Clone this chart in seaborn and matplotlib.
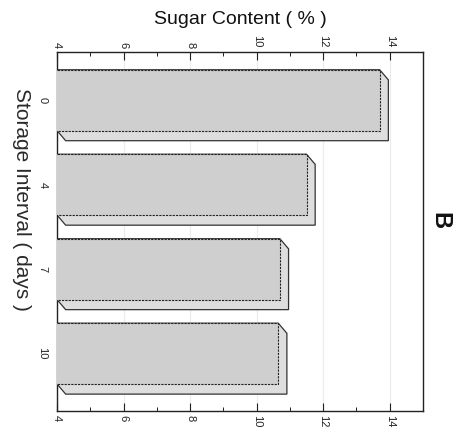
import matplotlib
matplotlib.use("Agg")
import matplotlib.pyplot as plt
from matplotlib.patches import Polygon
from matplotlib.ticker import MultipleLocator
import seaborn as sns
import pandas as pd

# Sugar content of stored samples
storage_days = ["0", "4", "7", "10"]
sugar_pct = [13.7, 11.5, 10.7, 10.65]
sugar_ticks = [4, 6, 8, 10, 12, 14]

sns.set_theme(style="white")
plt.rcParams["font.family"] = ["Liberation Sans", "DejaVu Sans"]

df = pd.DataFrame({"days": storage_days, "sugar": sugar_pct})

fig = plt.figure(figsize=(4.65, 4.43), dpi=100)
ax = fig.add_axes([0.1226, 0.0722, 0.787, 0.8104])

sns.barplot(data=df, x="sugar", y="days", order=storage_days, orient="h",
            color="#cfcfcf", saturation=1, width=0.72, ax=ax,
            edgecolor="#222222", linewidth=0.8, linestyle=(0, (2, 1)))

ax.set_xlim(4, 15)
ax.set_ylim(3.68, -0.57)

# extruded depth behind each bar
dx, dy = 0.26, 0.12
lo = ax.get_xlim()[0]
for p in list(ax.patches):
    x0, y0, w, h = p.get_x(), p.get_y(), p.get_width(), p.get_height()
    v = x0 + w
    top, bot = y0, y0 + h
    pts = [(lo, top), (v, top), (v + dx, top + dy), (v + dx, bot + dy),
           (lo + dx, bot + dy), (lo, bot)]
    ax.add_patch(Polygon(pts, closed=True, facecolor="#dedede",
                         edgecolor="#333333", linewidth=0.9, zorder=2))
    p.set_zorder(3)

ax.set_xticks(sugar_ticks)
ax.xaxis.set_minor_locator(MultipleLocator(1))
ax.grid(axis="x", which="major", color="#ebebeb", linewidth=0.8, zorder=0)
ax.set_axisbelow(True)

ax.tick_params(axis="x", which="both", direction="in", top=True, bottom=True,
               labeltop=True, labelbottom=True, colors="#222222")
ax.tick_params(axis="x", which="major", length=6, width=0.8, pad=3, labelsize=8)
ax.tick_params(axis="x", which="minor", length=3, width=0.7)
ax.tick_params(axis="y", which="major", direction="in", left=True, right=False,
               length=5, width=0.8, pad=7, labelsize=8, colors="#222222")
for t in ax.xaxis.get_major_ticks():
    t.label1.set_rotation(-90)
    t.label2.set_rotation(-90)
for lab in ax.get_yticklabels():
    lab.set_rotation(-90)
    lab.set_va("center")

for s in ax.spines.values():
    s.set_color("#222222")
    s.set_linewidth(1.0)

ax.xaxis.set_label_position("top")
ax.set_xlabel("Sugar Content ( % )", fontsize=14, color="#111111", labelpad=8)
ax.set_ylabel("Storage Interval ( days )", fontsize=15, color="#2a2a2a",
              rotation=-90, ha="center", va="center")
ax.yaxis.set_label_coords(-0.098, 0.588)

ax.text(1.045, 0.53, "B", transform=ax.transAxes, rotation=-90,
        fontsize=17, fontweight="bold", ha="center", va="center", color="#111111")

fig.savefig("out.png", dpi=100)
